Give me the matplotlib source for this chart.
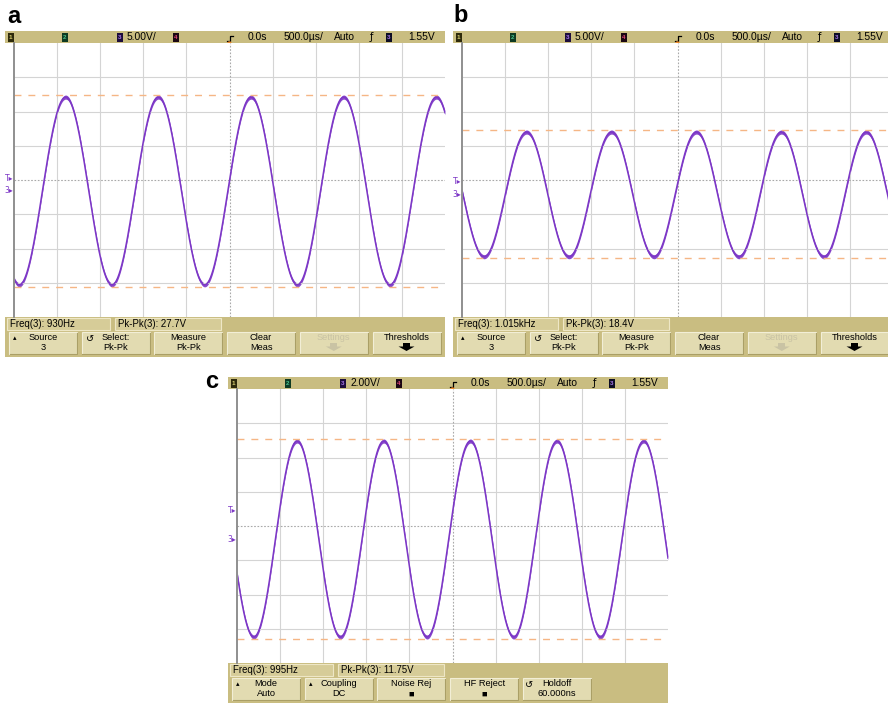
import numpy as np
import matplotlib
matplotlib.use('Agg')
import matplotlib.pyplot as plt
from matplotlib.patches import Rectangle, Polygon, Circle

plt.rcParams['font.family'] = ['Liberation Sans Narrow', 'Liberation Sans', 'DejaVu Sans']

W, H = 888, 704

# settings / readings off the three scope screens
panel_names = ['a', 'b', 'c']
volts_per_div = [5.0, 5.0, 2.0]
freq_hz = [930.0, 1015.0, 995.0]
amp_v = [13.7, 9.1, 5.72]          # half of the visible swing
ground_div = [-0.32, -0.42, -0.38]  # channel 3 ground marker, divisions from centre
trig_v = 1.55
time_div_ms = 0.5
scale_text = ['5.00V/', '5.00V/', '2.00V/']
freq_text = ['930Hz', '1.015kHz', '995Hz']
pkpk_text = ['27.7V', '18.4V', '11.75V']
keys_ab = [('Source', '3'), ('Select:', 'Pk-Pk'), ('Measure', 'Pk-Pk'),
           ('Clear', 'Meas'), ('Settings', ''), ('Thresholds', '')]
keys_c = [('Mode', 'Auto'), ('Coupling', 'DC'), ('Noise Rej', '\u25a0'),
          ('HF Reject', '\u25a0'), ('Holdoff', '60.000ns')]
keys = [keys_ab, keys_ab, keys_c]

# page layout: graticule left edge and status bar top, in pixels
origin = [(14, 31), (462, 31), (237, 377)]
label_pos = [(7, 23), (453, 22), (205, 388)]

KHAKI = '#c9bd81'
BOX = '#d6cc98'
BTN = '#e2dbb1'
PURPLE = '#7c36c6'
ORANGE = '#f5b685'
FS = 6.9

fig = plt.figure(figsize=(W / 100, H / 100), dpi=100)
bg = fig.add_axes([0, 0, 1, 1])
bg.set_xlim(0, W)
bg.set_ylim(H, 0)
bg.axis('off')


def rect(x, y, w, h, fc, ec='none', lw=0.8):
    bg.add_patch(Rectangle((x, y), w, h, fc=fc, ec=ec, lw=lw))


def chan_box(x, y, num, fc, tc):
    rect(x, y, 5.5, 9, fc)
    bg.text(x + 2.75, y + 4.8, num, color=tc, fontsize=4.5, ha='center', va='center',
            fontweight='bold')


for i in range(3):
    x0, y0 = origin[i]
    left = x0 - 9

    # status bar
    rect(left, y0, x0 + 431 - left, 12, KHAKI)
    ty = y0 + 6.3
    chan_box(x0 - 6, y0 + 1.5, '1', '#2e2a0c', '#d8cf70')
    chan_box(x0 + 48, y0 + 1.5, '2', '#0d3a22', '#4ac08a')
    chan_box(x0 + 103, y0 + 1.5, '3', '#1c0c3c', '#a878e8')
    bg.text(x0 + 113, ty, scale_text[i], fontsize=7.4, va='center')
    chan_box(x0 + 159, y0 + 1.5, '4', '#1a0612', '#e8487a')
    bg.text(x0 + 234, ty, '0.0s', fontsize=7.4, va='center')
    bg.text(x0 + 270, ty, '500.0\u00b5s/', fontsize=7.4, va='center')
    bg.text(x0 + 320, ty, 'Auto', fontsize=7.4, va='center')
    bg.text(x0 + 357, ty, '\u0192', fontsize=FS, va='center', ha='center', family='DejaVu Sans')
    chan_box(x0 + 372, y0 + 1.5, '3', '#0c0c24', '#a878e8')
    bg.text(x0 + 394, ty, '1.55V', fontsize=7.4, va='center')
    # trigger position marker
    cx = x0 + 215.5
    bg.plot([cx - 3, cx, cx, cx + 3], [y0 + 10, y0 + 10, y0 + 5, y0 + 5], color='black', lw=0.9)
    bg.add_patch(Circle((cx, y0 + 12.5), 2.2, fc='#f08a2a', ec='none', zorder=5))

    # graticule with the trace
    ax = fig.add_axes([x0 / W, 1 - (y0 + 12 + 274) / H, 431 / W, 274 / H])
    ax.set_xlim(-5, 5)
    ax.set_ylim(-4, 4)
    for k in range(-4, 5):
        if k != 0:
            ax.axvline(k, color='#d4d4d4', lw=0.8)
    for k in range(-3, 4):
        if k != 0:
            ax.axhline(k, color='#d4d4d4', lw=0.8)
    ax.axvline(0, color='#a9a9a9', lw=0.8, ls=(0, (1.5, 1.5)))
    ax.axhline(0, color='#a9a9a9', lw=0.8, ls=(0, (1.5, 1.5)))
    for s in ['top', 'right', 'bottom']:
        ax.spines[s].set_visible(False)
    ax.spines['left'].set_color('#8f8f8f')
    ax.spines['left'].set_linewidth(1.4)
    ax.set_xticks([])
    ax.set_yticks([])

    xd = np.linspace(-5, 5, 3000)
    t = xd * time_div_ms * 1e-3
    phi = np.arcsin(trig_v / amp_v[i])
    v = amp_v[i] * np.sin(2 * np.pi * freq_hz[i] * t + phi)
    yd = ground_div[i] + v / volts_per_div[i]
    ax.fill_between(xd, yd - 0.06, yd + 0.06, color=PURPLE, lw=0, alpha=0.9)
    ax.plot(xd, yd, color=PURPLE, lw=1.1)
    top = ground_div[i] + amp_v[i] / volts_per_div[i] + 0.05
    bot = ground_div[i] - amp_v[i] / volts_per_div[i] - 0.05
    ax.axhline(top, color=ORANGE, lw=1.0, ls=(0, (5, 5)))
    ax.axhline(bot, color=ORANGE, lw=1.0, ls=(0, (5, 5)))

    # channel markers left of the graticule
    pix = 274 / 8
    y_mid = y0 + 12 + 137
    y_trig = y_mid - (ground_div[i] + trig_v / volts_per_div[i]) * pix
    y_gnd = y_mid - ground_div[i] * pix
    bg.text(x0 - 5, y_trig - 2, 'T\u25b8', color=PURPLE, fontsize=5.5, ha='center', va='center',
            family='DejaVu Sans')
    bg.text(x0 - 5, y_gnd, '3\u25b8', color=PURPLE, fontsize=5.5, ha='center', va='center',
            family='DejaVu Sans')

    # measurement line and softkeys
    rect(left, y0 + 286, x0 + 431 - left, 40, KHAKI)
    rect(x0 - 7, y0 + 287, 103, 12, BOX, ec='#eee7c6')
    rect(x0 + 101, y0 + 287, 106, 12, BOX, ec='#eee7c6')
    bg.text(x0 - 4, y0 + 293.3, 'Freq(3): ' + freq_text[i], fontsize=FS, va='center')
    bg.text(x0 + 104, y0 + 293.3, 'Pk-Pk(3): ' + pkpk_text[i], fontsize=FS, va='center')

    for k, (l1, l2) in enumerate(keys[i]):
        bx = x0 - 5 + k * 72.7
        rect(bx, y0 + 301, 68, 22, BTN, ec='#f2eed6', lw=0.8)
        bg.plot([bx + 0.5, bx + 68, bx + 68], [y0 + 323, y0 + 323, y0 + 301.5], color='#aa9f66', lw=0.8)
        mx = bx + 34
        col = '#c9c3a4' if l1 == 'Settings' else 'black'
        bg.text(mx, y0 + 306.8, l1, fontsize=6.7, ha='center', va='center', color=col)
        if l2:
            bg.text(mx, y0 + 316.8, l2, fontsize=6.7, ha='center', va='center', color=col)
        if l1 in ('Source', 'Mode', 'Coupling'):
            bg.text(bx + 6, y0 + 307, '\u25b4', fontsize=5, ha='center', va='center',
                    family='DejaVu Sans')
        if l1 in ('Select:', 'Holdoff'):
            bg.text(bx + 8 if l1 == 'Select:' else bx + 6, y0 + 308, '\u21ba', fontsize=7,
                    ha='center', va='center', family='DejaVu Sans')
        if l1 in ('Thresholds', 'Settings'):
            acol = '#c9c3a4' if l1 == 'Settings' else 'black'
            bg.add_patch(Polygon([[mx - 8, y0 + 315.5], [mx + 8, y0 + 315.5], [mx, y0 + 320]],
                                 closed=True, fc=acol, ec='none'))
            rect(mx - 3.5, y0 + 312, 7, 3.6, acol)

    lx, ly = label_pos[i]
    bg.text(lx, ly, panel_names[i], fontsize=17, fontweight='bold', va='baseline',
            family='Liberation Sans')

fig.savefig('out.png', dpi=100)
